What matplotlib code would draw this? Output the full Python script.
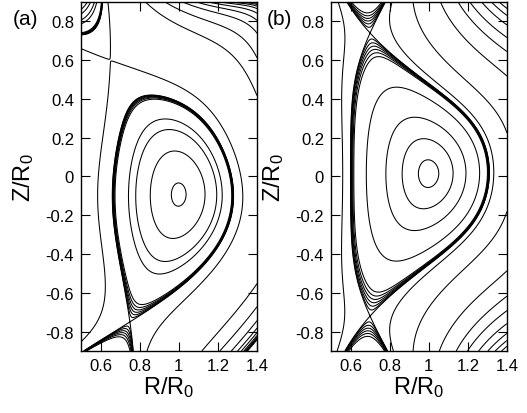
import numpy as np
import matplotlib
matplotlib.use("Agg")
import matplotlib.pyplot as plt

plt.rcParams["font.family"] = ["Liberation Sans", "DejaVu Sans"]
plt.rcParams["mathtext.fontset"] = "custom"
plt.rcParams["mathtext.rm"] = "Liberation Sans"
plt.rcParams["mathtext.it"] = "Liberation Sans:italic"

# shape points (R/R0, Z/R0)
A_AXIS = (1.00, -0.10)
A_OUTER = (1.28, -0.10)
A_INNER = (0.66, -0.10)
A_TOP = (0.86, 0.42)
A_XPOINT = (0.75, -0.75)
A_NULL2 = (0.65, 0.60)            # weak secondary null, upper left
A_SHAPE = (0.31, 1.9, 0.5)        # half width, elongation, triangularity near midplane

B_AXIS = (1.00, 0.03)
B_OUTER = (1.31, 0.02)
B_INNER = (0.60, 0.02)
B_XUPPER = (0.70, 0.74)
B_XLOWER = (0.70, -0.72)
B_SHAPE = (0.355, 2.06, 0.72)

# where the drawn flux lines cross the outer midplane (closed surfaces)
A_CORE_R = [1.037, 1.134, 1.194, 1.222]
B_CORE_R = [1.05, 1.124, 1.19, 1.26]
# open flux line on the inboard side, crossing the midplane
A_INBOARD_R = [0.585]
B_INBOARD_R = [0.56]
# where the open flux lines cross the top edge Z/R0 = 0.9
A_TOP_R = [0.83, 0.93, 1.02, 1.09, 1.15, 1.21, 1.26, 1.31, 1.355, 1.395]
B_TOP_R = [0.92, 1.06, 1.15, 1.21, 1.27, 1.32, 1.36, 1.395]
# normalised flux of the dense band around the separatrix (1 = separatrix)
BAND_LEVELS = [0.93, 0.95, 0.965, 0.977, 0.987, 0.995, 1.0]

XTICKS = [0.6, 0.8, 1.0, 1.2, 1.4]
XTICKLABELS = ["0.6", "0.8", "1", "1.2", "1.4"]
YTICKS = [-0.8, -0.6, -0.4, -0.2, 0.0, 0.2, 0.4, 0.6, 0.8]
YTICKLABELS = ["-0.8", "-0.6", "-0.4", "-0.2", "0", "0.2", "0.4", "0.6", "0.8"]

ln = np.log

# Solov'ev (Cerfon-Freidberg) solution: fixed x^4/8 part, A part and 12 homogeneous terms
P0 = lambda x, y: x ** 4 / 8
BASIS = [
    lambda x, y: x ** 2 * ln(x) / 2 - x ** 4 / 8,
    lambda x, y: np.ones_like(x * y),
    lambda x, y: x ** 2,
    lambda x, y: y ** 2 - x ** 2 * ln(x),
    lambda x, y: x ** 4 - 4 * x ** 2 * y ** 2,
    lambda x, y: 2 * y ** 4 - 9 * y ** 2 * x ** 2 + (3 * x ** 4 - 12 * x ** 2 * y ** 2) * ln(x),
    lambda x, y: x ** 6 - 12 * x ** 4 * y ** 2 + 8 * x ** 2 * y ** 4,
    lambda x, y: (8 * y ** 6 - 140 * y ** 4 * x ** 2 + 75 * y ** 2 * x ** 4
                  + (-15 * x ** 6 + 180 * x ** 4 * y ** 2 - 120 * x ** 2 * y ** 4) * ln(x)),
    lambda x, y: y,
    lambda x, y: y * x ** 2,
    lambda x, y: y ** 3 - 3 * y * x ** 2 * ln(x),
    lambda x, y: 3 * y * x ** 4 - 4 * y ** 3 * x ** 2,
    lambda x, y: 8 * y ** 5 - 45 * y * x ** 4 - (80 * y ** 3 * x ** 2 - 60 * y * x ** 4) * ln(x),
]


def d(f, p, kind):
    x, y = p
    h, h2 = 1e-5, 1e-3
    if kind == "v":
        return f(x, y)
    if kind == "x":
        return (f(x + h, y) - f(x - h, y)) / (2 * h)
    if kind == "y":
        return (f(x, y + h) - f(x, y - h)) / (2 * h)
    if kind == "xx":
        return (f(x + h2, y) - 2 * f(x, y) + f(x - h2, y)) / h2 ** 2
    if kind == "yy":
        return (f(x, y + h2) - 2 * f(x, y) + f(x, y - h2)) / h2 ** 2


def n_coeffs(shape):
    a, k, delta = shape
    al = np.arcsin(delta)
    n1 = -(1 + al) ** 2 / (a * k ** 2)
    n2 = (1 - al) ** 2 / (a * k ** 2)
    return n1, n2


def point_rows(p, kinds):
    return [lambda f, k=k: d(f, p, k) for k in kinds]


def solve(rows):
    M = np.array([[r(f) for f in BASIS] for r in rows])
    rhs = -np.array([r(P0) for r in rows])
    coef = np.linalg.solve(M, rhs)
    return lambda x, y: P0(x, y) + sum(c * f(x, y) for c, f in zip(coef, BASIS))


def rows_a():
    n1, _ = n_coeffs(A_SHAPE)
    rows = point_rows(A_OUTER, ["v", "y"])
    rows += [lambda f: d(f, A_OUTER, "yy") + n1 * d(f, A_OUTER, "x")]
    rows += point_rows(A_INNER, ["v", "y"])
    rows += point_rows(A_TOP, ["v", "x"])
    rows += point_rows(A_XPOINT, ["v", "x", "y"])
    rows += point_rows(A_NULL2, ["x", "y"])
    rows += point_rows(A_AXIS, ["x"])
    return rows


def rows_b():
    n1, n2 = n_coeffs(B_SHAPE)
    rows = point_rows(B_OUTER, ["v", "y"])
    rows += [lambda f: d(f, B_OUTER, "yy") + n1 * d(f, B_OUTER, "x")]
    rows += point_rows(B_INNER, ["v", "y"])
    rows += [lambda f: d(f, B_INNER, "yy") + n2 * d(f, B_INNER, "x")]
    rows += point_rows(B_XUPPER, ["v", "x", "y"])
    rows += point_rows(B_XLOWER, ["v", "x", "y"])
    rows += point_rows(B_AXIS, ["x"])
    return rows


def panel(ax, psi, axis, core_r, inboard_r, top_r):
    gx, gz = np.meshgrid(np.linspace(axis[0] - 0.1, axis[0] + 0.1, 81),
                         np.linspace(axis[1] - 0.1, axis[1] + 0.1, 81))
    box = psi(gx, gz)
    p_axis = box.flat[np.argmax(np.abs(box))]

    def psin(x, z):
        return 1 - psi(x, z) / p_axis

    levels = ([psin(r, axis[1]) for r in core_r + inboard_r] + BAND_LEVELS
              + [psin(r, 0.9) for r in top_r])
    levels = sorted(set(np.round(levels, 5)))

    R, Z = np.meshgrid(np.linspace(0.5, 1.4, 451), np.linspace(-0.9, 0.9, 901))
    ax.contour(R, Z, psin(R, Z), levels=levels, colors="k", linewidths=0.75)

    ax.set_xlim(0.5, 1.4)
    ax.set_ylim(-0.9, 0.9)
    ax.set_xticks(XTICKS)
    ax.set_xticklabels(XTICKLABELS)
    ax.set_yticks(YTICKS)
    ax.set_yticklabels(YTICKLABELS)
    ax.tick_params(direction="in", length=6.5, width=0.8, top=True, right=True,
                   labelsize=12, pad=5)
    for s in ax.spines.values():
        s.set_linewidth(1.0)
    ax.text(0.5, -0.103, "R/R$_0$", transform=ax.transAxes, ha="center", va="center", fontsize=17)
    ax.text(-0.324, 0.5, "Z/R$_0$", transform=ax.transAxes, ha="center", va="center",
            fontsize=17, rotation=90)


fig = plt.figure(figsize=(5.27, 4.14), dpi=100)
ax_a = fig.add_axes([0.1537, 0.1498, 0.334, 0.843])
ax_b = fig.add_axes([0.628, 0.1498, 0.334, 0.843])
panel(ax_a, solve(rows_a()), A_AXIS, A_CORE_R, A_INBOARD_R, A_TOP_R)
panel(ax_b, solve(rows_b()), B_AXIS, B_CORE_R, B_INBOARD_R, B_TOP_R)
fig.text(0.025, 0.952, "(a)", fontsize=15, ha="left", va="center")
fig.text(0.507, 0.952, "(b)", fontsize=15, ha="left", va="center")

fig.savefig("out.png", dpi=100)
